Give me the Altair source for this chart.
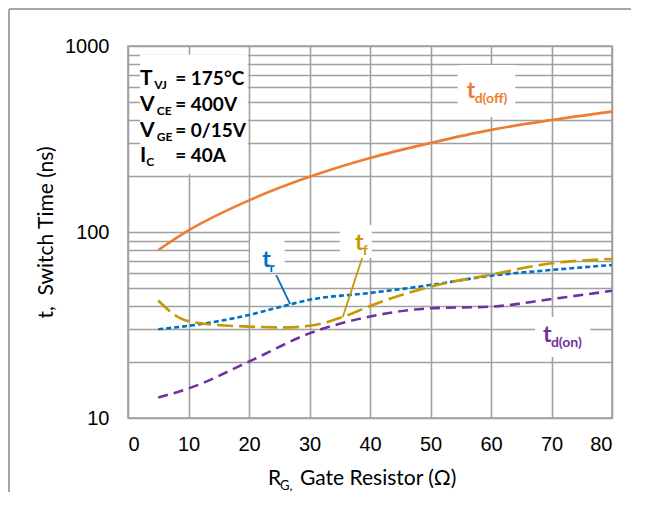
import altair as alt
import pandas as pd

# ---------------- data ----------------
rg_off = [5, 10, 20, 30, 40, 50, 60, 70, 80]
td_off = [80, 102, 148, 198, 250, 301, 354, 400, 444]

rg_r = [5, 10, 20, 27, 30, 40, 50, 60, 70, 80]
t_r = [30, 31.3, 35.8, 41, 43.2, 47, 51.9, 58.2, 62.5, 66.5]

rg_f = [5, 8.6, 12, 20, 26, 30, 35.6, 40, 50, 60, 70, 80]
t_f = [42.8, 34.4, 32.3, 31, 30.7, 31.3, 35, 40, 50.8, 59, 67.9, 71.6]

rg_on = [5, 10, 20, 30, 40, 50, 60, 70, 80]
td_on = [12.9, 14.4, 20.1, 28.5, 35.1, 38.9, 39.7, 43.6, 48.3]

x_ticks = [0, 10, 20, 30, 40, 50, 60, 70, 80]
y_ticks = [10, 20, 30, 40, 50, 60, 70, 80, 90,
           100, 200, 300, 400, 500, 600, 700, 800, 900, 1000]

# condition block
cond_main = ["T", "V", "V", "I"]
cond_sub = ["VJ", "CE", "GE", "C"]
cond_val = ["= 175°C", "= 400V", "= 0/15V", "= 40A"]
cond_y = [617, 447, 324, 238]
cond_sub_x = [4.35, 4.75, 4.75, 3.0]
cond_x = 2.0
cond_val_x = 7.8

# curve labels
lab_main = ["t", "t", "t", "t"]
lab_sub = ["d(off)", "r", "f", "d(on)"]
lab_x = [56.0, 22.2, 37.5, 68.6]
lab_sub_x = [57.3, 23.4, 38.8, 69.9]
lab_y = [525, 64.9, 80, 25.6]
lab_color = ["#ED7D31", "#0070C0", "#C49A00", "#7030A0"]

# white label backgrounds
box_x = [2.0, 54.5, 20.2, 35.0, 67.3]
box_x2 = [19.8, 64.0, 25.9, 40.3, 76.4]
box_y = [205, 415, 60.9, 72.5, 21.3]
box_y2 = [900, 790, 90.6, 109, 34.9]

# leader lines
lead_x = [24.5, 38.7]
lead_x2 = [26.8, 35.5]
lead_y = [58.7, 72.5]
lead_y2 = [41, 34.9]
lead_color = ["#0070C0", "#C49A00"]

GRID = "#A0A0A0"

xs = alt.Scale(domain=[0, 80], nice=False, zero=False)
ys = alt.Scale(type="log", domain=[10, 1000], nice=False)

base_x = alt.X("x:Q", scale=xs,
               axis=alt.Axis(values=x_ticks, title=None, grid=True, ticks=False,
                             domain=False, labelFontSize=20, labelPadding=16,
                             labelFont="Liberation Sans", labelColor="#000",
                             gridColor=GRID, gridWidth=1.6))
base_y = alt.Y("y:Q", scale=ys,
               axis=alt.Axis(values=y_ticks, grid=True, ticks=False, domain=False,
                             labelExpr="(datum.value == 10 || datum.value == 100 || datum.value == 1000) ? datum.value : ''",
                             labelFontSize=20, labelPadding=19,
                             labelFont="Liberation Sans", labelColor="#000",
                             gridColor=GRID, gridWidth=1.6,
                             title="t,\u00a0\u00a0Switch Time (ns)", titleFont="Lato",
                             titleFontSize=21, titleFontWeight="normal",
                             titleColor="#000", titleX=-82, titleY=186,
                             titleAngle=-90, titleAlign="center",
                             titleBaseline="middle"))


def line(xv, yv, color, dash, interp="monotone"):
    df = pd.DataFrame({"x": xv, "y": yv})
    kw = dict(color=color, strokeWidth=2.6, interpolate=interp)
    if dash:
        kw["strokeDash"] = dash
    return alt.Chart(df).mark_line(**kw).encode(x=base_x, y=base_y)


boxes = alt.Chart(pd.DataFrame({"x": box_x, "x2": box_x2, "y": box_y, "y2": box_y2})).mark_rect(
    color="white").encode(x=base_x, x2="x2:Q", y=base_y, y2="y2:Q")

l_off = line(rg_off, td_off, "#ED7D31", None)
l_r = line(rg_r, t_r, "#0070C0", [5, 3])
l_f = line(rg_f, t_f, "#C49A00", [16, 6])
l_on = line(rg_on, td_on, "#7030A0", [10, 6])

leaders = alt.Chart(pd.DataFrame({"x": lead_x, "x2": lead_x2, "y": lead_y,
                                  "y2": lead_y2, "c": lead_color})).mark_rule(
    strokeWidth=1.8).encode(x=base_x, x2="x2:Q", y=base_y, y2="y2:Q",
                            color=alt.Color("c:N", scale=None))

cdf = pd.DataFrame({"m": cond_main, "s": cond_sub, "v": cond_val, "y": cond_y,
                    "sx": cond_sub_x, "x": [cond_x] * 4, "vx": [cond_val_x] * 4})
c_main = alt.Chart(cdf).mark_text(font="Lato", fontWeight="bold", fontSize=21,
                                  align="left", baseline="alphabetic", color="#000").encode(
    x=base_x, y=base_y, text="m:N")
c_sub = alt.Chart(cdf).mark_text(font="Lato", fontWeight="bold", fontSize=12,
                                 align="left", baseline="alphabetic", dy=4, color="#000").encode(
    x=alt.X("sx:Q", scale=xs), y=base_y, text="s:N")
c_val = alt.Chart(cdf).mark_text(font="Lato", fontWeight="bold", fontSize=19,
                                 align="left", baseline="alphabetic", color="#000").encode(
    x=alt.X("vx:Q", scale=xs), y=base_y, text="v:N")

ldf = pd.DataFrame({"m": lab_main, "s": lab_sub, "x": lab_x, "sx": lab_sub_x,
                    "y": lab_y, "c": lab_color})
t_main = alt.Chart(ldf).mark_text(font="Lato", fontWeight="bold", fontSize=23,
                                  align="left", baseline="alphabetic").encode(
    x=base_x, y=base_y, text="m:N", color=alt.Color("c:N", scale=None))
t_sub = alt.Chart(ldf).mark_text(font="Lato", fontWeight="bold", fontSize=14,
                                 align="left", baseline="alphabetic", dy=5).encode(
    x=alt.X("sx:Q", scale=xs), y=base_y, text="s:N", color=alt.Color("c:N", scale=None))

# x-axis title with subscript, placed below the plot
one = pd.DataFrame({"k": [0]})
xt_main = alt.Chart(one).mark_text(font="Lato", fontSize=21, align="left",
                                   baseline="alphabetic", color="#000", text="R").encode(
    x=alt.value(140), y=alt.value(439))
xt_sub = alt.Chart(one).mark_text(font="Lato", fontSize=13, align="left",
                                  baseline="alphabetic", color="#000", text="G,").encode(
    x=alt.value(152), y=alt.value(444))
xt_rest = alt.Chart(one).mark_text(font="Lato", fontSize=21, align="left",
                                   baseline="alphabetic", color="#000",
                                   text="Gate Resistor (Ω)").encode(
    x=alt.value(172), y=alt.value(439))

# outer frame (left and top edges)
frame_l = alt.Chart(one).mark_rule(color="#A6A6A6", strokeWidth=2).encode(
    x=alt.value(-119), y=alt.value(-37), y2=alt.value(470))
frame_t = alt.Chart(one).mark_rule(color="#A6A6A6", strokeWidth=2).encode(
    x=alt.value(-119), x2=alt.value(520), y=alt.value(-37))

chart = alt.layer(
    boxes, l_off, l_r, l_f, l_on, leaders,
    c_main, c_sub, c_val, t_main, t_sub,
    xt_main, xt_sub, xt_rest, frame_l, frame_t
).properties(
    width=484, height=372,
    autosize=alt.AutoSizeParams(type="none"),
    padding={"left": 120, "top": 38, "right": 19, "bottom": 74},
    background="white",
).configure_view(stroke=GRID, strokeWidth=1.6)

chart.save("out.html", embed_options={"renderer": "svg", "actions": False})
